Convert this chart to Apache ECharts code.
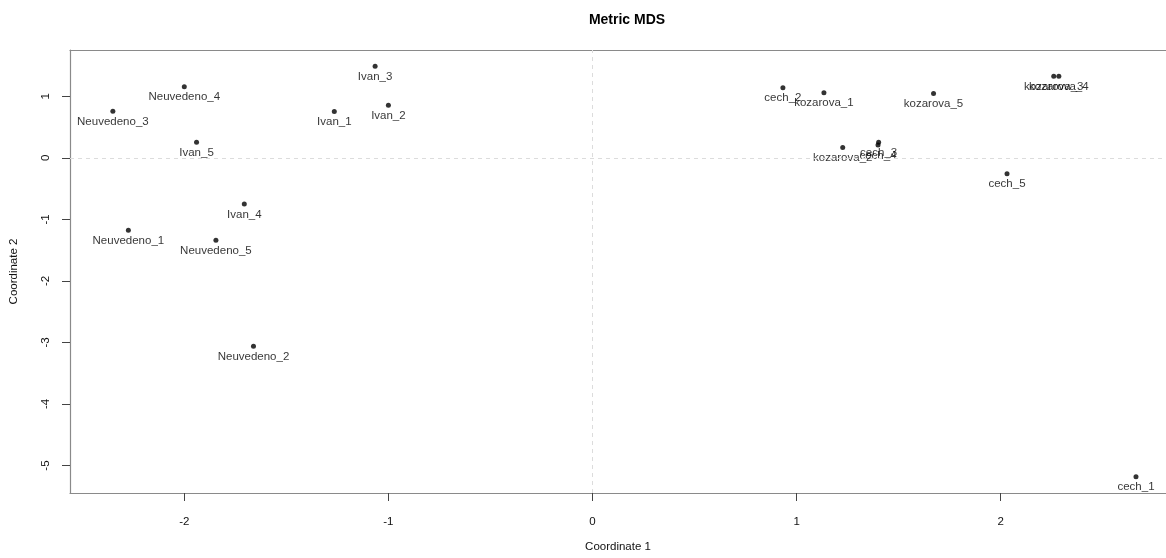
<!DOCTYPE html>
<html>
<head>
<meta charset="utf-8">
<script src="https://cdn.jsdelivr.net/npm/echarts@6/dist/echarts.min.js"></script>
<style>html,body{margin:0;padding:0;background:#fff}#c{width:1166px;height:558px}</style>
</head>
<body>
<div id="c"></div>
<script>
const names = ["Neuvedeno_1","Neuvedeno_2","Neuvedeno_3","Neuvedeno_4","Neuvedeno_5",
  "Ivan_1","Ivan_2","Ivan_3","Ivan_4","Ivan_5",
  "cech_1","cech_2","cech_3","cech_4","cech_5",
  "kozarova_1","kozarova_2","kozarova_3","kozarova_4","kozarova_5"];
const coord1 = [-2.274,-1.661,-2.350,-2.000,-1.845,
  -1.265,-1.000,-1.065,-1.706,-1.940,
  2.663,0.933,1.402,1.399,2.031,
  1.134,1.226,2.260,2.285,1.671];
const coord2 = [-1.175,-3.060,0.757,1.155,-1.340,
  0.752,0.853,1.486,-0.750,0.253,
  -5.180,1.140,0.253,0.209,-0.258,
  1.058,0.166,1.325,1.325,1.047];
const xTicks = [-2,-1,0,1,2];
const yTicks = [-5,-4,-3,-2,-1,0,1];

const pts = names.map((n,i)=>[coord1[i],coord2[i],n]);
const font = "Liberation Sans, Arial, sans-serif";
const boxLine = {show:true, onZero:false, lineStyle:{color:'#8a8a8a', width:1.2}};
const chart = echarts.init(document.getElementById('c'), null, {renderer:'canvas'});
chart.setOption({
  animation:false,
  backgroundColor:'#fff',
  title:{text:'Metric MDS', left:622, top:8, textAlign:'center',
    textStyle:{fontFamily:font, fontSize:14, fontWeight:'bold', color:'#000'}},
  grid:{left:68, right:0, top:50, bottom:61, show:false, containLabel:false},
  xAxis:[{type:'value', min:-2.56, max:2.81, position:'bottom',
    name:'Coordinate 1', nameLocation:'middle', nameGap:48,
    nameTextStyle:{fontFamily:font, fontSize:11.5, color:'#111'},
    axisLine:boxLine,
    axisTick:{show:true, customValues:xTicks, length:8, lineStyle:{color:'#444'}},
    axisLabel:{customValues:xTicks, margin:23, fontFamily:font, fontSize:11.5, color:'#111'},
    splitLine:{show:false}},
   {type:'value', min:-2.56, max:2.81, position:'top',
    axisLine:boxLine, axisTick:{show:false}, axisLabel:{show:false}, splitLine:{show:false}}],
  yAxis:{type:'value', min:-5.446, max:1.752,
    name:'Coordinate 2', nameLocation:'middle', nameGap:50, nameRotate:90,
    nameTextStyle:{fontFamily:font, fontSize:11.5, color:'#111'},
    axisLine:boxLine,
    axisTick:{show:true, customValues:yTicks, length:8, lineStyle:{color:'#444'}},
    axisLabel:{customValues:yTicks, rotate:90, margin:18, fontFamily:font, fontSize:11.5, color:'#111'},
    splitLine:{show:false}},
  series:[{
    type:'scatter',
    data:pts,
    symbol:'circle', symbolSize:5,
    itemStyle:{color:'#000'},
    label:{show:true, position:'bottom', distance:2, formatter:p=>p.data[2],
      fontFamily:font, fontSize:11.5, color:'#000'},
    markLine:{silent:true, symbol:'none', label:{show:false},
      lineStyle:{type:[4,4], color:'#dcdcdc', width:1},
      data:[{xAxis:0},{yAxis:0}]}
  }]
});
</script>
</body>
</html>
